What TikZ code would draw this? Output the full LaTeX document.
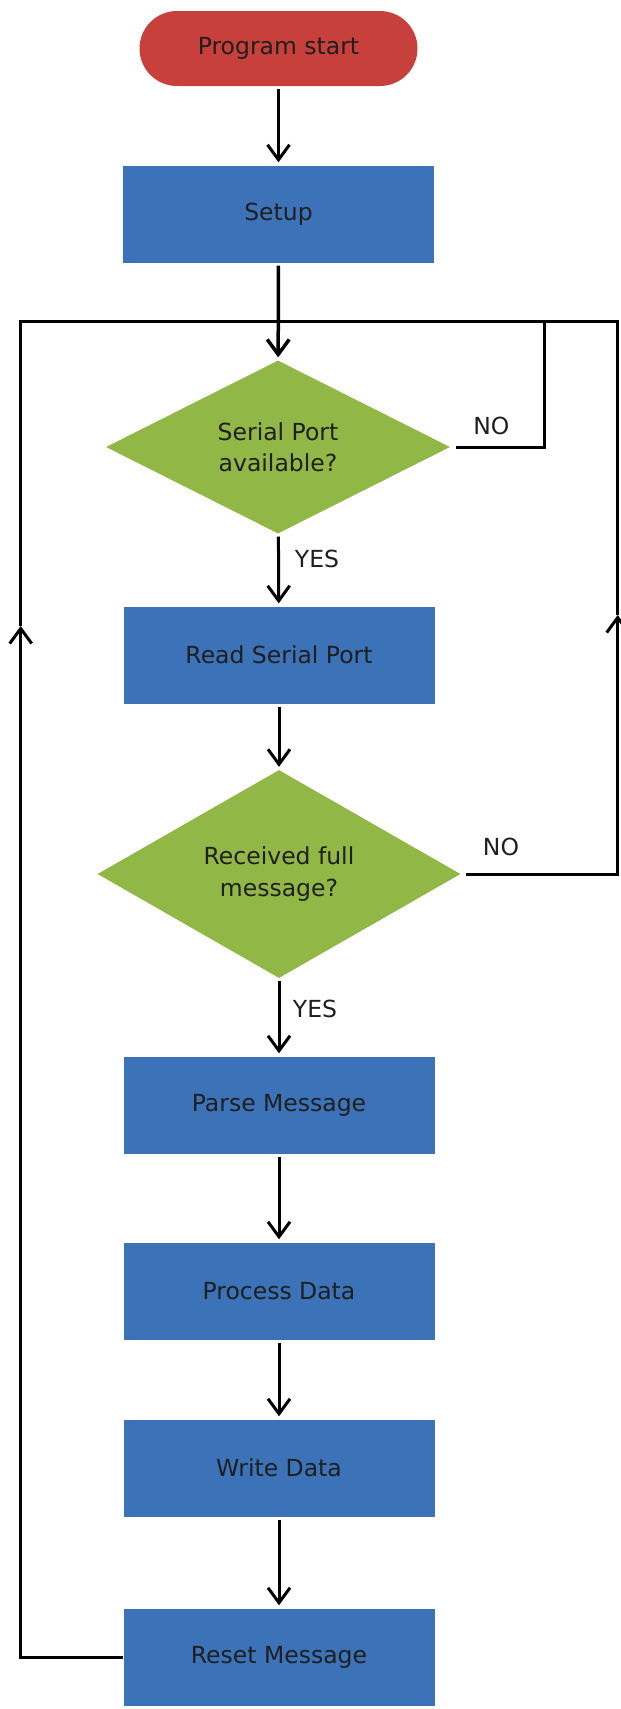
\documentclass[tikz,border=0pt]{standalone}
\usepackage{fontspec}
\setmainfont{DejaVu Sans}
\usetikzlibrary{shapes.geometric,arrows.meta}

\definecolor{startred}{HTML}{C8403B}
\definecolor{stepblue}{HTML}{3B72B8}
\definecolor{askgreen}{HTML}{91B846}

\tikzset{
  box/.style={rectangle, fill=stepblue, minimum width=311pt, minimum height=97pt, inner sep=0pt},
  ask/.style={diamond, fill=askgreen, inner sep=0pt, align=center},
  barb/.style={-{Straight Barb[length=15pt,width=22pt]}},
  flow/.style={line width=3pt, barb, shorten >=3pt, shorten <=3pt},
  loopline/.style={line width=3pt},
  lbl/.style={inner sep=0pt}
}

\begin{document}
\begin{tikzpicture}[x=1pt, y=-1pt, font=\fontsize{23.5}{31.5}\selectfont, text=black!88]
            % Bounding box of the whole page
            \useasboundingbox (0,0) rectangle (621,1709);

            % Start and setup
            \node[rectangle, rounded corners=37.5pt, fill=startred, minimum width=278pt, minimum height=75pt] (start) at (278.5,48.5) {Program start};
            \node[box] (setup) at (278.5,214) {Setup};

            % Main loop
            \node[ask, minimum width=344pt, minimum height=173pt] (dec1) at (278,447) {Serial Port\\available?};
            \node[box] (read) at (279,655) {Read Serial Port};
            \node[ask, minimum width=363pt, minimum height=208pt] (dec2) at (279,874) {Received full\\message?};
            \node[box] (parse) at (279,1105) {Parse Message};
            \node[box] (process) at (279,1291) {Process Data};
            \node[box] (write) at (279,1468) {Write Data};
            \node[box] (reset) at (279,1657) {Reset Message};

            % Corners of the loop-back lines
            \coordinate (lup) at (20.7,626);
            \coordinate (rup) at (617.7,615);
            \coordinate (r1) at (544.8,321.4);
            \coordinate (r2) at (617.7,321.4);

            % Arrows down the chart
            \draw[flow] (start) -- (setup);
            \draw[flow, line width=3.5pt] (setup) -- (dec1);
            \draw[flow] (dec1) -- (read);
            \draw[flow] (read) -- (dec2);
            \draw[flow] (dec2) -- (parse);
            \draw[flow] (parse) -- (process);
            \draw[flow] (process) -- (write);
            \draw[flow] (write) -- (reset);

            % Loop-back lines
            \draw[loopline, barb] (reset.west) -| (lup);
            \draw[loopline] (lup) |- (r2) -- (rup);
            \draw[loopline, barb, shorten <=5pt] (dec2.east) -| (rup);
            \draw[loopline, shorten <=6pt] (dec1.east) -| (r1);

            % Branch labels
            \node[lbl] (yes1) at (317,559) {YES};
            \node[lbl] (no1) at (491.4,426) {NO};
            \node[lbl] (yes2) at (315,1009) {YES};
            \node[lbl] (no2) at (501,846.5) {NO};
        \end{tikzpicture}
\end{document}
